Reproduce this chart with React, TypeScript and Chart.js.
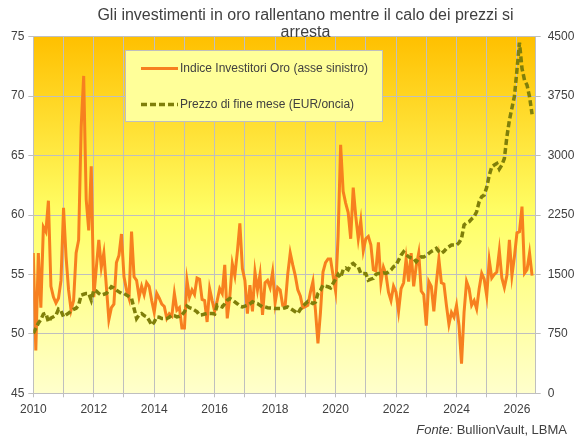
import { useEffect, useRef } from 'react';
import { Chart, registerables } from 'chart.js';

Chart.register(...registerables);

// ---- data (monthly, Jan 2010 onwards) ----
const startYear = 2010;
const xAxisMax = 2026.62;

const investorIndex: number[] = [
  // 2010
  56.8, 48.6, 56.8, 52.2, 59.0, 58.6, 61.2, 54.0, 53.1, 52.6, 53.0, 54.5,
  // 2011
  60.6, 56.5, 53.7, 52.0, 52.8, 56.8, 57.9, 67.4, 71.7, 61.3, 58.7, 64.1,
  // 2012
  53.1, 55.5, 57.9, 55.6, 56.8, 54.0, 51.2, 52.2, 52.5, 56.0, 56.6, 58.4,
  // 2013
  54.8, 53.7, 53.0, 58.6, 54.8, 54.5, 53.1, 54.0, 53.3, 54.3, 54.0, 52.8,
  // 2014
  51.8, 53.4, 53.0, 52.5, 52.3, 51.3, 51.7, 51.5, 53.4, 52.0, 52.2, 50.5,
  // 2015
  50.5, 54.5, 53.1, 53.7, 53.3, 54.7, 54.6, 52.9, 52.8, 51.0, 53.8, 52.8,
  // 2016
  51.9, 52.8, 53.8, 53.4, 55.8, 51.3, 53.1, 55.9, 54.9, 56.9, 59.3, 55.5,
  // 2017
  54.5, 51.7, 54.1, 51.9, 55.2, 53.7, 55.0, 51.6, 54.3, 54.5, 53.9, 55.2,
  // 2018
  52.6, 53.9, 53.7, 52.4, 52.4, 55.0, 56.8, 55.8, 54.9, 53.7, 53.2, 52.2,
  // 2019
  52.3, 52.4, 53.5, 54.4, 52.0, 49.2, 51.8, 55.2, 56.0, 56.3, 56.3, 54.9,
  // 2020
  53.6, 58.2, 65.9, 62.0, 61.0, 60.2, 58.0, 62.3, 59.9, 58.0, 59.5, 57.0,
  // 2021
  58.0, 58.2, 57.5, 55.4, 55.3, 57.7, 54.3, 55.6, 55.0, 53.5, 52.8, 54.0,
  // 2022
  53.5, 51.9, 53.8, 54.3, 56.3, 54.4, 56.8, 54.0, 55.7, 56.8, 53.6, 53.3,
  // 2023
  50.7, 54.4, 54.0, 51.9, 54.3, 56.3, 54.3, 54.2, 52.4, 50.8, 51.8, 51.4,
  // 2024
  52.4, 50.7, 47.5, 51.8, 54.4, 53.8, 52.4, 52.8, 52.1, 53.8, 55.1, 54.6,
  // 2025
  53.2, 56.2, 54.7, 55.0, 55.2, 57.0, 54.7, 53.9, 54.9, 57.9, 54.9, 56.5,
  // 2026
  58.5, 58.6, 60.7, 55.1, 55.4, 56.8, 54.9,
];

const goldPriceEur: number[] = [
  // 2010
  755, 820, 885, 930, 1000, 1011, 901, 950, 965, 985, 1062, 1040,
  // 2011
  965, 990, 1011, 1040, 1060, 1074, 1112, 1239, 1250, 1260, 1260, 1175,
  // 2012
  1302, 1290, 1260, 1239, 1250, 1260, 1300, 1344, 1330, 1302, 1280, 1260,
  // 2013
  1260, 1239, 1220, 1197, 1070, 944, 990, 1007, 980, 965, 920, 860,
  // 2014
  900, 965, 960, 944, 944, 944, 960, 986, 980, 965, 970, 990,
  // 2015
  1028, 1100, 1080, 1070, 1050, 1028, 986, 990, 1000, 1007, 1007, 1007,
  // 2016
  1000, 1112, 1100, 1090, 1130, 1175, 1197, 1180, 1155, 1130, 1100, 1090,
  // 2017
  1100, 1112, 1130, 1155, 1140, 1133, 1110, 1090, 1090, 1080, 1077, 1075,
  // 2018
  1070, 1070, 1070, 1070, 1080, 1090, 1070, 1050, 1030, 1007, 1060, 1100,
  // 2019
  1130, 1160, 1150, 1133, 1150, 1260, 1300, 1365, 1350, 1344, 1330, 1386,
  // 2020
  1440, 1500, 1460, 1560, 1580, 1560, 1620, 1639, 1610, 1597, 1513, 1513,
  // 2021
  1510, 1428, 1440, 1450, 1500, 1513, 1513, 1520, 1513, 1530, 1555, 1597,
  // 2022
  1618, 1680, 1744, 1786, 1750, 1723, 1710, 1702, 1660, 1700, 1723, 1720,
  // 2023
  1740, 1765, 1790, 1807, 1828, 1790, 1765, 1790, 1828, 1850, 1871, 1871,
  // 2024
  1871, 1900, 1955, 2124, 2150, 2165, 2200, 2229, 2292, 2420, 2481, 2502,
  // 2025
  2600, 2750, 2857, 2880, 2900, 2830, 2880, 2963, 3236, 3447, 3600, 3750,
  // 2026
  4080, 4424, 4100, 3952, 3889, 3742, 3520,
];

const titleLines = ['Gli investimenti in oro rallentano mentre il calo dei prezzi si', 'arresta'];
const seriesLabels = ['Indice Investitori Oro (asse sinistro)', 'Prezzo di fine mese (EUR/oncia)'];
const sourcePrefix = 'Fonte:';
const sourceText = ' BullionVault, LBMA';

const FONT = '"Liberation Sans", Arial, sans-serif';
const TEXT = '#404040';
const GRID = '#BFBFBF';

const toPoints = (arr: number[]) => arr.map((v, i) => ({ x: startYear + i / 12, y: v }));

const backgroundPlugin = {
  id: 'plotBg',
  beforeDraw(chart: any) {
    const { ctx, chartArea: a } = chart;
    const g = ctx.createLinearGradient(0, a.top, 0, a.bottom);
    g.addColorStop(0, '#FFC000');
    g.addColorStop(0.5, '#FFFF66');
    g.addColorStop(1, '#FFFFCC');
    ctx.save();
    ctx.fillStyle = g;
    ctx.fillRect(a.left, a.top, a.right - a.left, a.bottom - a.top);
    ctx.restore();
  },
};

const legendPlugin = {
  id: 'boxLegend',
  afterDatasetsDraw(chart: any) {
    const { ctx } = chart;
    ctx.save();
    const bx = 125, by = 50, bw = 257, bh = 71;
    ctx.fillStyle = '#FFFF99';
    ctx.fillRect(bx, by, bw, bh);
    ctx.strokeStyle = GRID;
    ctx.lineWidth = 1;
    ctx.strokeRect(bx + 0.5, by + 0.5, bw, bh);
    const rows = [68.5, 104.5];
    chart.data.datasets.forEach((ds: any, i: number) => {
      const y = rows[i];
      ctx.beginPath();
      ctx.setLineDash(ds.borderDash || []);
      ctx.lineWidth = ds.borderWidth;
      ctx.strokeStyle = ds.borderColor;
      ctx.moveTo(141, y);
      ctx.lineTo(178, y);
      ctx.stroke();
      ctx.setLineDash([]);
      ctx.fillStyle = TEXT;
      ctx.font = `12px ${FONT}`;
      ctx.textBaseline = 'middle';
      ctx.textAlign = 'left';
      ctx.fillText(ds.label, 180, y);
    });
    ctx.restore();
  },
};

const textPlugin = {
  id: 'texts',
  afterDraw(chart: any) {
    const { ctx } = chart;
    ctx.save();
    ctx.fillStyle = TEXT;
    ctx.font = `16px ${FONT}`;
    ctx.textAlign = 'center';
    ctx.textBaseline = 'middle';
    ctx.fillText(titleLines[0], 305.5, 15.5);
    ctx.fillText(titleLines[1], 305.5, 33);
    // source
    ctx.textAlign = 'left';
    ctx.font = `13px ${FONT}`;
    const w2 = ctx.measureText(sourceText).width;
    ctx.font = `italic 13px ${FONT}`;
    const w1 = ctx.measureText(sourcePrefix).width;
    const right = 567;
    const x0 = right - w1 - w2;
    ctx.fillText(sourcePrefix, x0, 430);
    ctx.font = `13px ${FONT}`;
    ctx.fillText(sourceText, x0 + w1, 430);
    ctx.restore();
  },
};

export default function App() {
  const ref = useRef<HTMLCanvasElement | null>(null);
  useEffect(() => {
    document.body.style.margin = '0';
    const canvas = ref.current!;
    const chart = new Chart(canvas, {
      type: 'line',
      data: {
        datasets: [
          {
            label: seriesLabels[0],
            data: toPoints(investorIndex),
            borderColor: '#F7801F',
            borderWidth: 3,
            pointRadius: 0,
            tension: 0,
            yAxisID: 'y',
            order: 2,
          },
          {
            label: seriesLabels[1],
            data: toPoints(goldPriceEur),
            borderColor: '#7F7F0A',
            borderWidth: 3.5,
            borderDash: [6, 3],
            pointRadius: 0,
            tension: 0,
            yAxisID: 'y1',
            order: 1,
          },
        ],
      },
      options: {
        responsive: false,
        animation: false,
        devicePixelRatio: 1,
        layout: { padding: { top: 36.7, left: 0, right: 0, bottom: 0 } },
        plugins: { legend: { display: false }, tooltip: { enabled: false }, title: { display: false } },
        scales: {
          x: {
            type: 'linear',
            min: startYear,
            max: xAxisMax,
            afterFit: (s: any) => { s.height = 47.7; },
            grid: { color: GRID, tickLength: 4, tickColor: GRID },
            border: { color: GRID },
            ticks: {
              stepSize: 1,
              includeBounds: false,
              autoSkip: false,
              maxRotation: 0,
              padding: 5,
              color: TEXT,
              font: { family: FONT, size: 12 },
              callback: (v: any) => (Number(v) % 2 === 0 ? String(v) : ''),
            },
          },
          y: {
            position: 'left',
            min: 45,
            max: 75,
            afterFit: (s: any) => { s.width = 33.3; },
            grid: { color: GRID, tickLength: 5, tickColor: GRID },
            border: { color: GRID },
            ticks: { stepSize: 5, padding: 4, color: TEXT, font: { family: FONT, size: 12 } },
          },
          y1: {
            position: 'right',
            min: 0,
            max: 4500,
            afterFit: (s: any) => { s.width = 39.3; },
            grid: { drawOnChartArea: false, color: GRID, tickLength: 5, tickColor: GRID },
            border: { color: GRID },
            ticks: {
              stepSize: 750,
              padding: 7,
              color: TEXT,
              font: { family: FONT, size: 12 },
              callback: (v: any) => String(v),
            },
          },
        },
      },
      plugins: [backgroundPlugin, legendPlugin, textPlugin],
    });
    return () => chart.destroy();
  }, []);
  return (
    <div style={{ width: 575, height: 441, background: '#FFFFFF' }}>
      <canvas ref={ref} width={575} height={441} style={{ display: 'block' }} />
    </div>
  );
}
